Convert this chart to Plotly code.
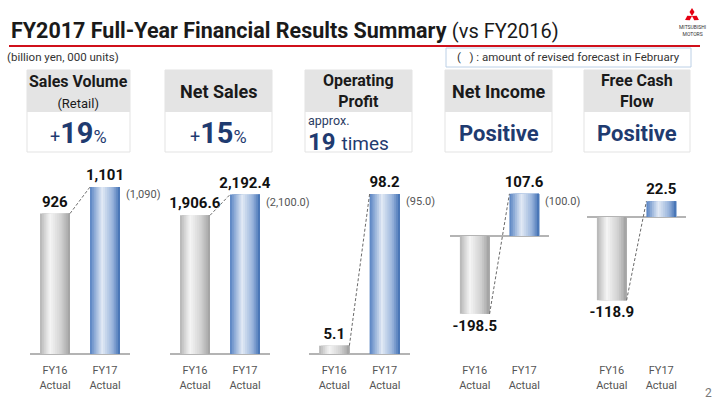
import math
import plotly.graph_objects as go

# ---------------- data ----------------
periods = ["FY16<br>Actual", "FY17<br>Actual"]
metrics = ["Sales Volume", "Net Sales", "Operating Profit", "Net Income", "Free Cash Flow"]
fy16 = [926, 1906.6, 5.1, -198.5, -118.9]
fy17 = [1101, 2192.4, 98.2, 107.6, 22.5]
forecast = [1090, 2100.0, 95.0, 100.0, None]
fy16_labels = ["926", "1,906.6", "5.1", "-198.5", "-118.9"]
fy17_labels = ["1,101", "2,192.4", "98.2", "107.6", "22.5"]
forecast_labels = ["(1,090)", "(2,100.0)", "(95.0)", "(100.0)", None]
header_titles = ["<b>Sales Volume</b><br><span style='font-size:13px'>(Retail)</span>",
                 "<b>Net Sales</b>", "<b>Operating<br>Profit</b>",
                 "<b>Net Income</b>", "<b>Free Cash<br>Flow</b>"]
header_values = ["<span style='font-size:18px'>+</span><b>19</b><span style='font-size:18px'>%</span>",
                 "<span style='font-size:18px'>+</span><b>15</b><span style='font-size:18px'>%</span>",
                 None, "<b>Positive</b>", "<b>Positive</b>"]

# ---------------- layout constants ----------------
W_PX, H_PX = 720, 405
FONT = "Roboto"
NAVY = "#1f3b70"
panel_x = [(30, 130), (170, 270), (309, 410), (450, 549), (587, 686)]
y_ranges = [(0, 1279), (0, 2668), (0, 119.1), (-301, 194), (-195.7, 81.4)]
y_dom = [1 - 354 / H_PX, 1 - 160 / H_PX]
box_x = [(27, 130), (165, 272), (305, 412), (445, 552), (584, 690)]
title_sizes = [16, 18, 16, 18, 16]
BW = 0.6
NSL = 16

def px(x):
    return x / W_PX

def py(y):
    return 1 - y / H_PX

def hex2rgb(h):
    h = h.lstrip("#")
    return [int(h[i:i + 2], 16) for i in (0, 2, 4)]

def grad(stops, t):
    for (p0, c0), (p1, c1) in zip(stops, stops[1:]):
        if p0 <= t <= p1:
            f = (t - p0) / (p1 - p0)
            a, b = hex2rgb(c0), hex2rgb(c1)
            return "rgb(%d,%d,%d)" % tuple(round(a[k] + (b[k] - a[k]) * f) for k in range(3))
    return stops[-1][1]

grey_stops = [(0, "#b4b4b4"), (0.33, "#f5f5f5"), (0.7, "#d2d2d2"), (1, "#a0a0a0")]
blue_stops = [(0, "#5682c2"), (0.4, "#e2eaf5"), (0.75, "#9ab5dc"), (1, "#3f6eb2")]

fig = go.Figure()
layout_axes = {}
annotations = []
shapes = []

for i in range(5):
    sfx = "" if i == 0 else str(i + 1)
    xa, ya = "x" + sfx, "y" + sfx
    vals = [fy16[i], fy17[i]]
    # gradient slices of the bars
    for k in range(NSL):
        t = (k + 0.5) / NSL
        fig.add_trace(go.Bar(
            x=[0, 1], y=vals, xaxis=xa, yaxis=ya,
            offset=-BW / 2 + k * BW / NSL, width=BW - k * BW / NSL,
            marker=dict(color=[grad(grey_stops, t), grad(blue_stops, t)], line=dict(width=0)),
            showlegend=False, hoverinfo="skip"))
    # value labels
    fig.add_trace(go.Bar(
        x=[0, 1], y=vals, xaxis=xa, yaxis=ya, width=BW,
        marker=dict(color="rgba(0,0,0,0)", line=dict(width=0)),
        text=[fy16_labels[i], fy17_labels[i]], textposition="outside",
        textfont=dict(family=FONT, size=15, color="#111111", weight="bold"),
        constraintext="none", cliponaxis=False, showlegend=False, hoverinfo="skip"))
    # dashed connector
    fig.add_trace(go.Scatter(
        x=[BW / 2, 1 - BW / 2], y=vals, xaxis=xa, yaxis=ya, mode="lines",
        line=dict(color="#6a6a6a", width=1, dash="3px,2px"),
        showlegend=False, hoverinfo="skip", cliponaxis=False))
    if forecast_labels[i]:
        annotations.append(dict(
            x=1 + BW / 2, y=fy17[i], xref=xa, yref=ya, text=forecast_labels[i],
            xanchor="left", yanchor="top", xshift=4, yshift=1, showarrow=False,
            font=dict(family=FONT, size=11, color="#555555")))
    layout_axes["xaxis" + sfx] = dict(
        domain=[px(panel_x[i][0]), px(panel_x[i][1])], range=[-0.5, 1.5],
        tickvals=[0, 1], ticktext=periods, showgrid=False, zeroline=False,
        showline=False, ticks="outside", ticklen=6, tickcolor="rgba(0,0,0,0)",
        anchor=ya, tickfont=dict(family=FONT, size=11, color="#555555"),
        fixedrange=True)
    layout_axes["yaxis" + sfx] = dict(
        domain=y_dom, range=list(y_ranges[i]), showgrid=False, showticklabels=False,
        zeroline=True, zerolinecolor="#b4b4b4", zerolinewidth=1.5, anchor=xa,
        fixedrange=True)

    # header boxes
    x0, x1 = box_x[i]
    shapes.append(dict(type="rect", xref="paper", yref="paper", x0=px(x0), x1=px(x1),
                       y0=py(152), y1=py(70), fillcolor="white",
                       line=dict(color="#e3e3e3", width=1), layer="below"))
    shapes.append(dict(type="rect", xref="paper", yref="paper", x0=px(x0), x1=px(x1),
                       y0=py(112), y1=py(70), fillcolor="#e4e4e4",
                       line=dict(width=0), layer="below"))
    cx = px((x0 + x1) / 2)
    annotations.append(dict(x=cx, y=py(91), xref="paper", yref="paper",
                            text=header_titles[i], showarrow=False,
                            xanchor="center", yanchor="middle",
                            font=dict(family=FONT, size=title_sizes[i], color="#1a1a1a")))
    if header_values[i]:
        size = 29 if "%" in header_values[i] else 22
        annotations.append(dict(x=cx, y=py(133), xref="paper", yref="paper",
                                text=header_values[i], showarrow=False,
                                xanchor="center", yanchor="middle",
                                font=dict(family=FONT, size=size, color=NAVY)))

# Operating profit value box
annotations.append(dict(x=px(306), y=py(120.5), xref="paper", yref="paper", text="approx.",
                        showarrow=False, xanchor="left", yanchor="middle",
                        font=dict(family=FONT, size=12.5, color="#2b3c63")))
annotations.append(dict(x=px(306), y=py(142), xref="paper", yref="paper",
                        text="<b>19</b> <span style='font-size:19px'>times</span>",
                        showarrow=False, xanchor="left", yanchor="middle",
                        font=dict(family=FONT, size=24, color=NAVY)))

# title
annotations.append(dict(x=px(9), y=py(30), xref="paper", yref="paper",
                        text="<b>FY2017 Full-Year Financial Results Summary</b>"
                             " <span style='font-size:20px'>(vs FY2016)</span>",
                        showarrow=False, xanchor="left", yanchor="middle",
                        font=dict(family=FONT, size=21.5, color="#1a1a1a")))
shapes.append(dict(type="line", xref="paper", yref="paper", x0=px(9), x1=px(700),
                   y0=py(46), y1=py(46), line=dict(color="#d0101b", width=2)))
annotations.append(dict(x=px(5), y=py(57), xref="paper", yref="paper",
                        text="(billion yen, 000 units)", showarrow=False,
                        xanchor="left", yanchor="middle",
                        font=dict(family=FONT, size=11.5, color="#333333")))
shapes.append(dict(type="rect", xref="paper", yref="paper", x0=px(446), x1=px(691),
                   y0=py(67), y1=py(48), fillcolor="white",
                   line=dict(color="#bcd0e6", width=1)))
annotations.append(dict(x=px(568), y=py(57.5), xref="paper", yref="paper",
                        text="(   ) : amount of revised forecast in February", showarrow=False,
                        xanchor="center", yanchor="middle",
                        font=dict(family=FONT, size=11.5, color="#333333")))
annotations.append(dict(x=px(708), y=py(393), xref="paper", yref="paper", text="2",
                        showarrow=False, xanchor="center", yanchor="middle",
                        font=dict(family=FONT, size=12, color="#777777")))

# logo (three diamonds)
lcx, lcy = 692, 16
L, Wd = 8.0, 5.0
for ang in (90, 210, 330):
    a = math.radians(ang)
    ux, uy = math.cos(a), -math.sin(a)
    vx, vy = -uy, ux
    pts = [(0, 0), (L / 2 * ux + Wd / 2 * vx, L / 2 * uy + Wd / 2 * vy),
           (L * ux, L * uy), (L / 2 * ux - Wd / 2 * vx, L / 2 * uy - Wd / 2 * vy)]
    path = "M " + " L ".join("%f,%f" % (px(lcx + p[0]), py(lcy + p[1])) for p in pts) + " Z"
    shapes.append(dict(type="path", xref="paper", yref="paper", path=path,
                       fillcolor="#e60012", line=dict(width=0)))
annotations.append(dict(x=px(692), y=py(30), xref="paper", yref="paper",
                        text="MITSUBISHI<br>MOTORS", showarrow=False,
                        xanchor="center", yanchor="middle",
                        font=dict(family=FONT, size=5, color="#333333")))

fig.update_layout(
    width=W_PX, height=H_PX, margin=dict(l=0, r=0, t=0, b=0),
    paper_bgcolor="white", plot_bgcolor="rgba(0,0,0,0)",
    barmode="overlay", showlegend=False,
    annotations=annotations, shapes=shapes, **layout_axes)

fig.write_html("out.html")
